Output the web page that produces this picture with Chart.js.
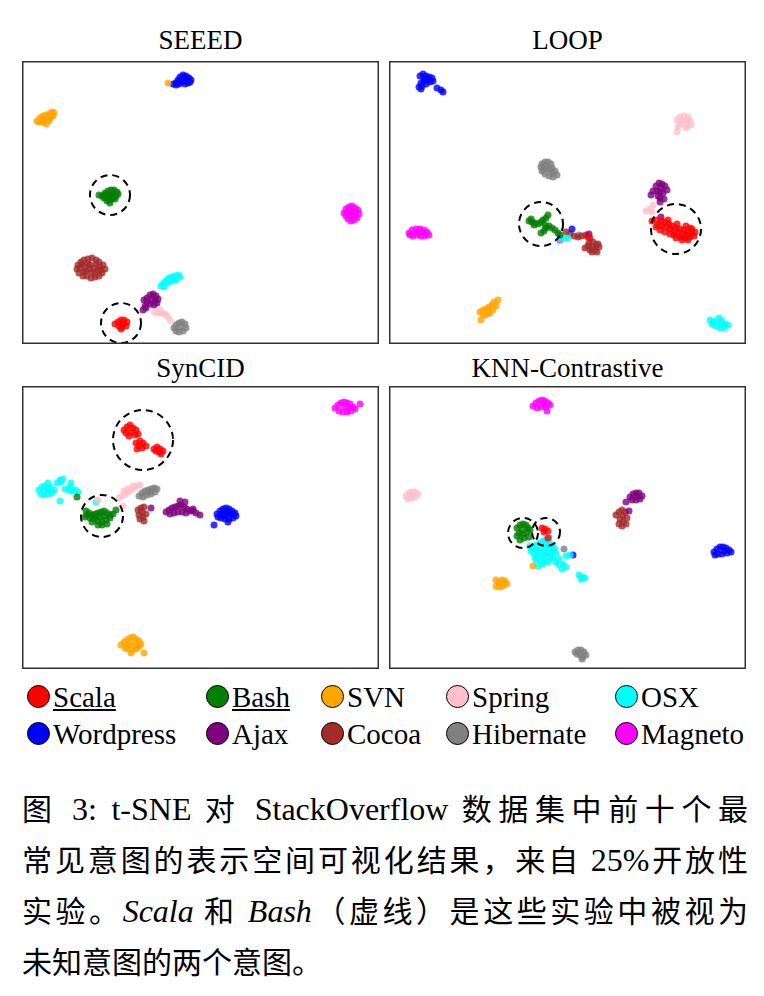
<!DOCTYPE html>
<html>
<head>
<meta charset="utf-8">
<script src="https://cdn.jsdelivr.net/npm/chart.js@4.4.1/dist/chart.umd.min.js"></script>
<style>
    html, body { margin: 0; padding: 0; background: #fff; }
    body { width: 764px; height: 996px; position: relative; overflow: hidden; }
    canvas { position: absolute; }
    .title {
        position: absolute; width: 357px; text-align: center;
        font: 27px/27px "Liberation Serif", serif; color: #000;
    }
    .item {
        position: absolute; font: 29px/29px "Liberation Serif", serif; color: #000;
        white-space: nowrap;
    }
    .item u { text-decoration-thickness: 2px; text-underline-offset: 2px; }
    .dot {
        position: absolute; width: 23px; height: 23px; border-radius: 50%;
        border: 1px solid #000; box-sizing: border-box;
    }
    #caption {
        position: absolute; left: 22px; top: 782px; width: 726px;
        font-family: "Noto Sans CJK SC", sans-serif; font-size: 30px; color: #000;
    }
    #caption .ln { height: 51px; line-height: 51px; text-align: justify; text-align-last: justify; white-space: nowrap; }
    #caption .ln.last { text-align: left; text-align-last: left; }
    #caption .lat { font-family: "Liberation Serif", serif; font-size: 32px; }
</style>
</head>
<body>
<div class="title" style="left:22px;top:27px">SEEED</div>
<div class="title" style="left:389px;top:27px">LOOP</div>
<div class="title" style="left:22px;top:355px">SynCID</div>
<div class="title" style="left:389px;top:355px">KNN-Contrastive</div>

<canvas id="c-seeed"></canvas>
<canvas id="c-loop"></canvas>
<canvas id="c-syncid"></canvas>
<canvas id="c-knn"></canvas>

<div id="legend"></div>

<div id="caption">
    <div class="ln">图 <span class="lat">3: t-SNE</span> 对 <span class="lat">StackOverflow</span> 数据集中前十个最</div>
    <div class="ln">常见意图的表示空间可视化结果，来自 <span class="lat">25%</span>开放性</div>
    <div class="ln">实验。<i class="lat">Scala</i> 和 <i class="lat">Bash</i>（虚线）是这些实验中被视为</div>
    <div class="ln last">未知意图的两个意图。</div>
</div>

<script>
(function () {
    'use strict';

    // intent classes, in legend order
    const intents = ['Scala', 'Bash', 'SVN', 'Spring', 'OSX', 'Wordpress', 'Ajax', 'Cocoa', 'Hibernate', 'Magneto'];
    const intentColors = ['#ff0000', '#008000', '#ffa500', '#ffc0cb', '#00ffff', '#0000ff', '#800080', '#a52a2a', '#808080', '#ff00ff'];
    const unknownIntents = ['Scala', 'Bash'];

    // t-SNE points (x, y pairs), one list per intent
    const seeedPoints = [
        [115,324, 118,322, 121,320, 124,320, 127,322, 126,326, 122,327, 119,326, 121,329, 123,324],
        [99,195, 102,196, 105,193, 108,191, 111,190, 114,190, 117,192, 116,196, 113,198, 110,200, 107,201, 104,198, 109,196, 112,194, 110,203, 106,197, 118,194, 105,195, 113,193, 109,199, 115,199],
        [37,121, 40,118, 43,116, 46,115, 49,114, 52,112, 54,113, 51,117, 48,119, 45,121, 42,122, 39,122, 46,124, 49,121, 53,116, 44,119, 47,118, 50,116, 42,119, 168,83],
        [154,312, 158,313, 162,313, 165,314, 160,310, 167,316, 170,320],
        [161,286, 163,284, 165,282, 167,280, 169,278, 172,277, 175,276, 178,275, 180,277, 176,280, 172,281, 168,283, 164,287, 171,279, 174,278],
        [176,83, 178,80, 180,77, 183,75, 186,76, 189,78, 191,80, 188,83, 185,84, 182,82, 179,84, 184,79, 187,81, 181,79, 190,82, 173,84, 176,85, 185,80, 183,77, 187,78, 180,81],
        [147,298, 150,295, 153,294, 156,296, 158,299, 157,303, 154,305, 150,304, 147,302, 144,300, 145,306, 143,310, 146,308, 152,300, 155,301],
        [78,265, 81,262, 84,260, 88,259, 92,258, 96,260, 99,262, 103,265, 105,269, 102,273, 99,276, 95,277, 91,278, 87,276, 83,276, 79,273, 77,269, 85,267, 90,265, 94,268, 98,270, 86,271, 92,272, 80,268, 100,267, 88,264, 96,264, 84,272, 95,273, 90,269, 101,270, 82,264],
        [174,328, 176,325, 179,323, 182,322, 185,324, 186,328, 183,331, 179,332, 176,331, 180,327],
        [344,213, 346,209, 349,207, 352,206, 355,208, 358,210, 359,214, 357,218, 354,220, 351,221, 348,219, 346,216, 350,213, 353,214, 356,213, 352,217, 349,210, 352,210, 355,216, 347,213]
    ];
    const loopPoints = [
        [652,221, 657,220, 661,221, 665,222, 669,224, 672,226, 676,228, 680,229, 684,230, 688,232, 692,233, 694,236, 690,237, 686,235, 682,234, 678,233, 674,231, 670,229, 666,227, 662,226, 658,225, 674,235, 680,237, 685,238, 692,229, 686,226, 677,224, 668,220, 660,230, 665,232, 670,234, 676,238, 682,240, 688,240, 656,227, 690,228, 695,232, 588,237],
        [529,221, 532,222, 535,223, 538,224, 541,222, 543,220, 546,218, 548,215, 545,225, 546,228, 544,231, 541,233, 549,226, 552,228, 555,230, 558,233, 560,235, 531,219, 534,225],
        [480,312, 483,310, 486,309, 489,307, 492,305, 494,302, 498,300, 496,306, 493,310, 490,313, 486,315, 483,315, 481,320, 488,311],
        [677,120, 680,117, 684,116, 688,117, 690,121, 691,125, 687,126, 684,124, 680,123, 678,127, 677,132, 686,128, 683,121, 687,121, 653,205, 650,209, 646,211, 652,212],
        [710,320, 713,322, 716,321, 719,318, 722,321, 725,324, 728,325, 724,328, 720,328, 716,326, 712,324, 721,324, 564,238, 568,238, 561,239],
        [420,76, 423,74, 426,76, 429,77, 432,78, 428,80, 424,81, 421,83, 419,87, 422,86, 426,84, 430,82, 433,81, 437,88, 441,90, 443,92, 421,89, 424,78, 572,229],
        [656,186, 659,183, 662,184, 665,186, 667,190, 663,193, 660,192, 657,191, 653,191, 651,195, 660,198, 660,202, 664,199, 658,196, 661,188, 661,217, 589,234],
        [566,232, 570,234, 574,236, 578,237, 582,236, 586,235, 590,238, 593,242, 596,245, 592,248, 595,250, 599,247, 597,252, 589,243, 588,246, 592,252, 585,248, 590,250, 598,244],
        [542,164, 545,162, 548,162, 551,164, 552,168, 555,171, 557,175, 553,177, 549,176, 545,174, 542,171, 541,167, 548,169, 546,166, 550,170, 553,173, 544,169, 579,235],
        [409,233, 412,230, 416,229, 420,229, 424,230, 427,232, 429,235, 425,236, 421,236, 417,235, 413,236, 418,232, 423,233, 410,235, 560,240]
    ];
    const syncidPoints = [
        [124,430, 127,427, 130,425, 133,428, 136,430, 131,432, 126,433, 129,436, 135,435, 138,434, 136,443, 140,441, 143,443, 139,446, 137,449, 142,448, 146,446, 154,449, 157,447, 160,449, 163,451, 159,452, 156,451, 161,454],
        [86,511, 89,513, 92,515, 95,514, 98,513, 101,512, 104,511, 107,513, 110,515, 113,514, 116,510, 110,518, 106,520, 102,522, 98,521, 94,519, 90,518, 87,515, 96,517, 100,517, 104,516, 92,522, 107,524, 98,525, 102,525, 85,517, 77,497],
        [121,645, 124,642, 127,640, 130,638, 133,637, 136,639, 139,641, 141,644, 139,647, 136,649, 132,650, 128,649, 125,648, 130,644, 134,645, 131,653, 144,653, 127,645, 137,644],
        [119,498, 122,496, 125,494, 128,492, 131,490, 134,488, 137,486, 140,485, 128,489, 133,486, 124,491, 98,500, 123,506],
        [39,490, 42,487, 45,486, 48,488, 51,488, 54,490, 52,493, 48,494, 44,495, 41,494, 46,491, 57,483, 60,480, 63,479, 61,482, 65,489, 69,490, 72,491, 75,490, 78,492, 70,487, 60,501, 71,483, 48,483, 96,502],
        [217,514, 220,511, 223,509, 226,508, 229,509, 232,511, 235,513, 236,516, 233,518, 229,519, 225,519, 221,518, 218,517, 226,514, 230,514, 222,514, 228,512, 233,514, 224,516, 228,522, 214,525],
        [166,512, 169,510, 172,508, 175,507, 178,506, 181,505, 184,507, 187,509, 190,511, 193,511, 196,513, 200,515, 186,513, 182,512, 178,512, 174,513, 170,514, 180,501, 185,502, 193,509, 151,508],
        [138,510, 141,508, 144,507, 142,512, 139,515, 143,517, 140,519, 144,521, 146,514],
        [139,496, 142,493, 145,491, 148,490, 151,489, 154,488, 157,489, 155,492, 151,494, 147,495, 143,497, 149,492],
        [335,408, 338,405, 341,403, 344,402, 347,403, 350,404, 353,407, 355,409, 351,411, 347,412, 343,412, 339,411, 345,407, 349,408, 360,404]
    ];
    const knnPoints = [
        [542,528, 545,529, 548,531, 544,532, 548,538],
        [517,528, 520,525, 523,524, 526,525, 528,528, 530,530, 527,532, 523,534, 519,533, 517,536, 520,540, 524,538, 529,537, 522,530],
        [496,580, 499,582, 502,580, 505,581, 507,584, 503,586, 499,587, 496,586, 501,584, 533,566],
        [406,496, 409,493, 412,492, 415,492, 418,494, 415,497, 411,498, 408,499, 412,495],
        [533,548, 536,545, 540,543, 543,541, 546,540, 549,542, 552,545, 553,550, 550,553, 546,555, 542,557, 538,556, 534,553, 531,551, 537,550, 541,548, 545,547, 548,549, 544,552, 540,552, 536,560, 540,561, 545,560, 548,562, 552,559, 556,562, 559,565, 563,564, 566,567, 562,569, 566,556, 570,555, 556,554, 579,575, 582,577, 585,578, 581,579, 553,546, 549,537, 546,544, 538,566, 535,557, 543,564, 550,557, 555,550, 530,546, 559,559],
        [714,552, 717,549, 720,547, 723,547, 726,548, 729,550, 731,552, 727,553, 722,554, 718,554, 715,555, 724,551, 573,555],
        [630,497, 633,494, 636,493, 639,493, 642,496, 640,499, 636,500, 632,500, 637,497, 626,502, 629,511],
        [616,515, 619,512, 622,510, 625,512, 623,516, 620,519, 623,522, 626,524, 622,526, 619,524, 627,518],
        [575,652, 578,650, 581,650, 584,652, 586,655, 583,657, 580,655, 577,654, 582,659, 564,549],
        [533,406, 536,403, 539,401, 542,400, 545,401, 548,403, 550,405, 546,407, 541,407, 537,408, 544,405, 547,411]
    ];

    // dashed rings around the unknown intents: centre x, centre y, radius
    const seeedRings = [[110, 195, 20], [121, 323, 20]];
    const loopRings = [[541, 224, 22], [676, 229, 25]];
    const syncidRings = [[143, 440, 30], [102, 516, 21]];
    const knnRings = [[523, 533, 15], [546, 532, 14]];

    const panels = [
        { id: 'c-seeed', box: [22, 61, 379, 344], points: seeedPoints, rings: seeedRings },
        { id: 'c-loop', box: [389, 61, 746, 344], points: loopPoints, rings: loopRings },
        { id: 'c-syncid', box: [22, 386, 379, 669], points: syncidPoints, rings: syncidRings },
        { id: 'c-knn', box: [389, 386, 746, 669], points: knnPoints, rings: knnRings },
    ];

    function toXY(flat) {
        const out = [];
        for (let i = 0; i < flat.length; i += 2) out.push({ x: flat[i], y: flat[i + 1] });
        return out;
    }

    function alpha(hex, a) {
        const n = parseInt(hex.slice(1), 16);
        return `rgba(${n >> 16},${(n >> 8) & 255},${n & 255},${a})`;
    }

    const framePlugin = {
        id: 'frame',
        afterDatasetsDraw(chart, args, opts) {
            const { ctx, chartArea: a, scales } = chart;
            ctx.save();
            ctx.strokeStyle = '#000';
            ctx.lineWidth = 2;
            ctx.setLineDash([7, 5]);
            (opts.rings || []).forEach(([cx, cy, r]) => {
                const px = scales.x.getPixelForValue(cx);
                const py = scales.y.getPixelForValue(cy);
                const pr = Math.abs(scales.x.getPixelForValue(cx + r) - px);
                ctx.beginPath();
                ctx.arc(px, py, pr, 0, Math.PI * 2);
                ctx.stroke();
            });
            ctx.setLineDash([]);
            ctx.strokeStyle = '#333';
            ctx.lineWidth = 1.5;
            ctx.strokeRect(a.left + 0.75, a.top + 0.75, a.width - 1.5, a.height - 1.5);
            ctx.restore();
        },
    };

    panels.forEach((p) => {
        const canvas = document.getElementById(p.id);
        const [x0, y0, x1, y1] = p.box;
        canvas.style.left = x0 + 'px';
        canvas.style.top = y0 + 'px';
        canvas.width = x1 - x0;
        canvas.height = y1 - y0;

        new Chart(canvas, {
            type: 'scatter',
            data: {
                datasets: intents.map((name, i) => ({
                    label: name,
                    data: toXY(p.points[i]),
                    backgroundColor: alpha(intentColors[i], 0.8),
                    borderWidth: 0,
                    pointRadius: 3.5,
                })),
            },
            options: {
                responsive: false,
                animation: false,
                events: [],
                layout: { padding: 0, autoPadding: false },
                plugins: {
                    legend: { display: false },
                    tooltip: { enabled: false },
                    frame: { rings: p.rings },
                },
                scales: {
                    x: { type: 'linear', min: x0, max: x1, display: false },
                    y: { type: 'linear', min: y0, max: y1, reverse: true, display: false },
                },
            },
            plugins: [framePlugin],
        });
    });

    // legend, two rows of five
    const legendCols = [38, 217, 332, 457, 626];
    const legendRows = [696, 733];
    const legend = document.getElementById('legend');
    intents.forEach((name, i) => {
        const cx = legendCols[i % 5];
        const cy = legendRows[Math.floor(i / 5)];
        const dot = document.createElement('div');
        dot.className = 'dot';
        dot.style.left = (cx - 11.5) + 'px';
        dot.style.top = (cy - 11.5) + 'px';
        dot.style.background = intentColors[i];
        legend.appendChild(dot);

        const label = document.createElement('div');
        label.className = 'item';
        label.style.left = (cx + 15) + 'px';
        label.style.top = (cy - 13) + 'px';
        if (unknownIntents.includes(name)) {
            const u = document.createElement('u');
            u.textContent = name;
            label.appendChild(u);
        } else {
            label.textContent = name;
        }
        legend.appendChild(label);
    });
})();
</script>
</body>
</html>
